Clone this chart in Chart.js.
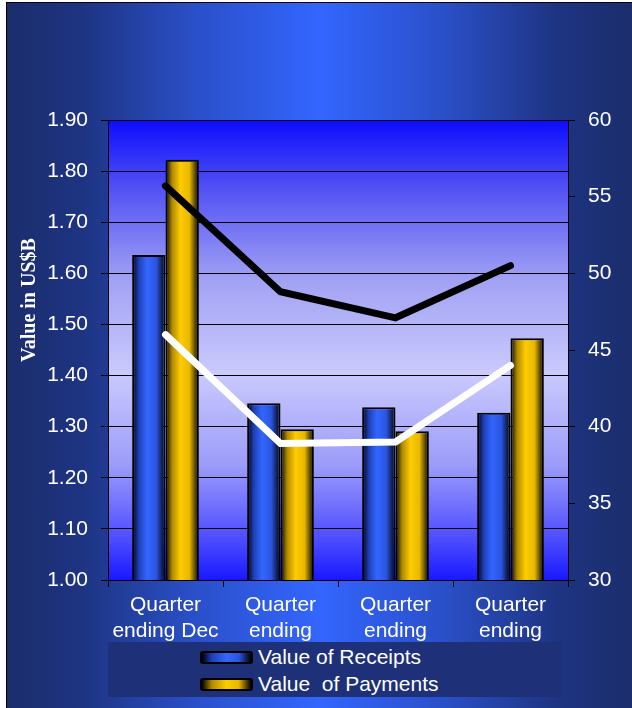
<!DOCTYPE html>
<html>
<head>
<meta charset="utf-8">
<script src="https://cdn.jsdelivr.net/npm/chart.js@4/dist/chart.umd.min.js"></script>
<style>
  html, body { margin: 0; padding: 0; background: #fff; }
  #frame {
    position: absolute; left: 6px; top: 2px; width: 625px; height: 705px;
    border-left: 1px solid #000; border-top: 1px solid #000;
    background: linear-gradient(to right, #1b2d6c 0%, #1e3482 12%, #2a4fc8 30%, #3366ff 50%, #2a4fc8 70%, #1e3482 88%, #1b2d6c 100%);
    overflow: hidden;
  }
  #chart { position: absolute; left: 0; top: 0; }
  #legend {
    position: absolute; left: 101px; top: 639px; width: 454px; height: 55px;
    background: #1d3078; font: 21px "Liberation Sans", Arial, sans-serif; color: #fff;
  }
  .item { position: absolute; left: 92px; height: 26px; display: flex; align-items: center; white-space: pre; }
  .swatch { width: 49px; height: 9px; border: 2px solid #000; border-radius: 3px; margin-right: 5px; }
</style>
</head>
<body>
<div id="frame">
  <canvas id="chart" width="625" height="705"></canvas>
  <div id="legend"></div>
</div>
<script>
const categories = [["Quarter", "ending Dec"], ["Quarter", "ending"], ["Quarter", "ending"], ["Quarter", "ending"]];
const receipts = [1.636, 1.346, 1.338, 1.327];
const payments = [1.822, 1.295, 1.291, 1.473];
const blackLine = [55.7, 48.8, 47.1, 50.5];
const whiteLine = [46.0, 38.9, 39.0, 44.0];
const leftTicks = { min: 1.0, max: 1.9, step: 0.1 };
const rightTicks = { min: 30, max: 60, step: 5 };

const CAT_PCT = 0.58;
const blueStops = ["#000000", "#1e40b8", "#3366ff", "#2a55e0", "#000000"];
const goldStops = ["#000000", "#b08a00", "#ffcc00", "#e6b800", "#000000"];

function addStops(g, stops) {
  const pos = [0, 0.2, 0.45, 0.72, 1];
  stops.forEach((c, i) => g.addColorStop(pos[i], c));
  return g;
}

function barFill(ctx, stops) {
  const chart = ctx.chart;
  const xScale = chart.scales.x;
  if (!chart.chartArea || !xScale || ctx.type !== "data") return stops[2];
  const centre = xScale.getPixelForValue(ctx.dataIndex);
  const barW = (xScale.width / categories.length) * CAT_PCT / 2;
  const left = ctx.datasetIndex === 0 ? centre - barW : centre;
  return addStops(chart.ctx.createLinearGradient(left, 0, left + barW, 0), stops);
}

const plotBackground = {
  id: "plotBackground",
  beforeDatasetsDraw(chart) {
    const { ctx, chartArea: a } = chart;
    const g = ctx.createLinearGradient(0, a.top, 0, a.bottom);
    g.addColorStop(0, "#0c0cff");
    g.addColorStop(0.15, "#5252f4");
    g.addColorStop(0.35, "#a2a2f4");
    g.addColorStop(0.55, "#cacafe");
    g.addColorStop(0.75, "#9c9cfa");
    g.addColorStop(0.92, "#4848ff");
    g.addColorStop(1, "#1818ff");
    ctx.save();
    ctx.globalCompositeOperation = "destination-over";
    ctx.fillStyle = g;
    ctx.fillRect(a.left, a.top, a.right - a.left, a.bottom - a.top);
    ctx.restore();
  }
};

const axisTitle = {
  id: "axisTitle",
  afterDraw(chart) {
    const ctx = chart.ctx;
    ctx.save();
    ctx.translate(23, 297);
    ctx.rotate(-Math.PI / 2);
    ctx.font = "bold 20px 'Liberation Serif', 'Times New Roman', serif";
    ctx.fillStyle = "#fff";
    ctx.textAlign = "center";
    ctx.textBaseline = "middle";
    ctx.fillText("Value in US$B", 0, 0);
    ctx.restore();
  }
};

const tickFont = { family: "'Liberation Sans', Arial, sans-serif", size: 21 };

new Chart(document.getElementById("chart"), {
  type: "bar",
  data: {
    labels: categories,
    datasets: [
      { label: "Value of Receipts", data: receipts, yAxisID: "y", order: 2,
        backgroundColor: (c) => barFill(c, blueStops), borderColor: "#000", borderWidth: 2,
        categoryPercentage: CAT_PCT, barPercentage: 1 },
      { label: "Value  of Payments", data: payments, yAxisID: "y", order: 2,
        backgroundColor: (c) => barFill(c, goldStops), borderColor: "#000", borderWidth: 2,
        categoryPercentage: CAT_PCT, barPercentage: 1 },
      { type: "line", label: "Line 1", data: blackLine, yAxisID: "y1", order: 1,
        borderColor: "#000", borderWidth: 7, pointRadius: 0, tension: 0, borderCapStyle: "round", fill: false },
      { type: "line", label: "Line 2", data: whiteLine, yAxisID: "y1", order: 1,
        borderColor: "#fff", borderWidth: 7, pointRadius: 0, tension: 0, borderCapStyle: "round", fill: false }
    ]
  },
  options: {
    responsive: false,
    devicePixelRatio: 1,
    animation: false,
    events: [],
    layout: { padding: { top: 117, left: 0, right: 0, bottom: 0 } },
    plugins: { legend: { display: false }, tooltip: { enabled: false } },
    scales: {
      x: {
        afterFit: (s) => { s.height = 128; },
        grid: { drawOnChartArea: false, color: "#000", tickLength: 7, offset: true },
        border: { color: "#000", width: 1 },
        ticks: { color: "#fff", font: { ...tickFont, size: 21, lineHeight: 1.2 }, padding: 6, maxRotation: 0, autoSkip: false }
      },
      y: {
        position: "left",
        min: leftTicks.min, max: leftTicks.max,
        afterFit: (s) => { s.width = 101; },
        grid: { color: "#000", tickLength: 7 },
        border: { color: "#000", width: 1 },
        ticks: { stepSize: leftTicks.step, color: "#fff", font: tickFont, padding: 13, callback: (v) => Number(v).toFixed(2) }
      },
      y1: {
        position: "right",
        min: rightTicks.min, max: rightTicks.max,
        afterFit: (s) => { s.width = 64; },
        grid: { drawOnChartArea: false, color: "#000", tickLength: 7 },
        border: { color: "#000", width: 1 },
        ticks: { stepSize: rightTicks.step, color: "#fff", font: tickFont, padding: 13 }
      }
    }
  },
  plugins: [plotBackground, axisTitle]
});

// legend as real text, stacked like the reference
const legendBox = document.getElementById("legend");
[["Value of Receipts", blueStops], ["Value  of Payments", goldStops]].forEach(([text, stops], i) => {
  const row = document.createElement("div");
  row.className = "item";
  row.style.top = (2 + i * 27) + "px";
  const sw = document.createElement("span");
  sw.className = "swatch";
  sw.style.background = `linear-gradient(to right, ${stops[0]} 0%, ${stops[1]} 20%, ${stops[2]} 50%, ${stops[3]} 75%, ${stops[4]} 100%)`;
  const label = document.createElement("span");
  label.textContent = text;
  row.append(sw, label);
  legendBox.appendChild(row);
});
</script>
</body>
</html>
